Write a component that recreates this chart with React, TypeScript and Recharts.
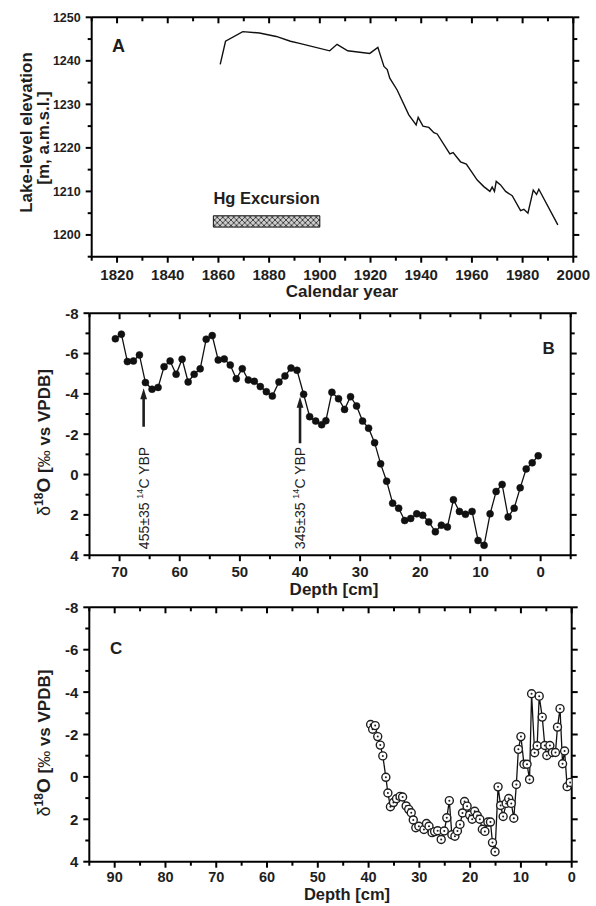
import React from "react";
import {
  LineChart,
  Line,
  XAxis,
  YAxis,
  ReferenceArea,
  ReferenceLine,
  ReferenceDot,
} from "recharts";

const FONT = '"Liberation Sans", Arial, Helvetica, sans-serif';
const INK = "#1e1e1e";

/* ---------------- panel A: lake level ---------------- */
const yearA = [
  1860.7, 1862.8, 1869.6, 1876.2, 1882.8, 1888.4, 1892, 1903.9, 1906.8, 1911,
  1919.7, 1922.9, 1925.3, 1926.6, 1927.6, 1930.5, 1935.1, 1938, 1938.8, 1940.7,
  1943, 1945, 1946.3, 1951.3, 1952.6, 1955.5, 1957.8, 1962.1, 1964.7, 1967.1,
  1968, 1968.9, 1969.6, 1971.3, 1973.3, 1975.9, 1979.2, 1980.5, 1982.1, 1984.2,
  1985.5, 1986.4, 1993.9,
];
const levelA = [
  1239.2, 1244.5, 1246.7, 1246.4, 1245.6, 1244.5, 1244.0, 1242.3, 1243.8,
  1242.3, 1241.7, 1243.1, 1238.7, 1238, 1236, 1233.3, 1227.6, 1225.3, 1227,
  1225, 1224.7, 1223.5, 1223.2, 1218.6, 1218.9, 1216.8, 1216.3, 1212.6, 1211.1,
  1210, 1211, 1210, 1212.3, 1211.5, 1210, 1209, 1205.6, 1205.9, 1205, 1210.3,
  1209.3, 1210.5, 1202.3,
];
const yearMajor = [1820, 1840, 1860, 1880, 1900, 1920, 1940, 1960, 1980, 2000];
const yearMinor = [1810, 1830, 1850, 1870, 1890, 1910, 1930, 1950, 1970, 1990];
const levelMajor = [1200, 1210, 1220, 1230, 1240, 1250];
const levelMinor = [1195, 1205, 1215, 1225, 1235, 1245];
const hgYears = [1858, 1900];
const hgLevels = [1201.8, 1204.4];

/* ---------------- panel B: d18O core 1 ---------------- */
const depthB = [
  70.7, 69.7, 68.7, 67.7, 66.7, 65.7, 64.6, 63.6, 62.6, 61.6, 60.6, 59.6, 58.6,
  57.6, 56.6, 55.6, 54.6, 53.6, 52.6, 51.6, 50.6, 49.6, 48.6, 47.6, 46.6, 45.6,
  44.6, 43.5, 42.5, 41.5, 40.5, 39.4, 38.4, 37.4, 36.4, 35.7, 34.7, 33.6, 32.6,
  31.6, 30.6, 29.6, 28.6, 27.6, 26.6, 25.6, 24.6, 23.6, 22.6, 21.6, 20.6, 19.6,
  18.6, 17.5, 16.5, 15.5, 14.5, 13.5, 12.5, 11.4, 10.4, 9.4, 8.4, 7.4, 6.4, 5.4,
  4.4, 3.4, 2.4, 1.4, 0.4,
];
const d18oB = [
  -6.73, -6.96, -5.6, -5.63, -5.93, -4.56, -4.23, -4.32, -5.35, -5.63, -4.97,
  -5.72, -4.59, -4.97, -5.24, -6.71, -6.89, -5.68, -5.73, -5.43, -4.75, -5.25,
  -4.69, -4.62, -4.36, -4.11, -3.89, -4.59, -4.89, -5.28, -5.17, -3.98, -2.87,
  -2.65, -2.47, -2.67, -4.08, -3.76, -3.23, -3.86, -3.4, -2.65, -2.3, -1.58,
  -0.53, 0.33, 1.42, 1.67, 2.28, 2.18, 1.95, 2.02, 2.35, 2.84, 2.51, 2.6, 1.25,
  1.83, 1.97, 1.83, 3.27, 3.51, 1.95, 0.84, 0.49, 2.1, 1.67, 0.66, -0.28, -0.58,
  -0.93,
];
const depthMajorB = [70, 60, 50, 40, 30, 20, 10, 0];
const depthMinorB = [75, 65, 55, 45, 35, 25, 15, 5, -5];
const dateDepths = [66, 40];
const dateAges = ["455±35", "345±35"];
const arrowBase = [-2.37, -1.55];
const arrowTip = [-4.28, -3.86];

/* ---------------- panel C: d18O core 2 ---------------- */
const depthC = [
  39.6, 39.2, 38.7, 38.2, 37.7, 37.2, 36.6, 36.2, 35.7, 35.1, 34.5, 33.8, 33.3,
  32.6, 32.1, 31.6, 31.2, 30.7, 30.1, 29.1, 28.6, 28.1, 27.5, 27.0, 26.4, 25.7,
  25.1, 24.6, 24.1, 23.6, 23.0, 22.5, 22.0, 21.5, 21.1, 20.6, 20.1, 19.6, 19.1,
  18.6, 18.1, 17.6, 17.1, 16.5, 16.0, 15.6, 15.1, 14.5, 14.0, 13.5, 12.9, 12.4,
  11.9, 11.4, 10.9, 10.5, 10.0, 9.4, 8.8, 8.3, 7.9, 7.3, 6.8, 6.4, 5.8, 5.3, 4.9,
  4.3, 3.8, 3.2, 2.8, 2.3, 1.8, 1.4, 0.9, 0.3,
];
const d18oC = [
  -2.47, -2.25, -2.42, -1.9, -1.5, -0.99, 0.02, 0.76, 1.41, 1.21, 1.03, 0.92,
  0.95, 1.37, 1.53, 1.69, 2.03, 2.4, 2.33, 2.48, 2.2, 2.33, 2.63, 2.58, 2.54,
  2.95, 2.55, 1.93, 1.12, 2.73, 2.8, 2.55, 2.24, 1.7, 1.16, 1.38, 1.8, 2.0, 1.62,
  1.82, 2.0, 2.47, 2.57, 2.13, 2.13, 3.1, 3.53, 0.47, 1.35, 1.87, 1.25, 1.02,
  1.25, 1.95, 0.36, -1.3, -1.9, -0.6, -0.6, 0.12, -3.92, -1.14, -1.47, -3.81,
  -2.82, -1.48, -1.01, -1.48, -1.15, -1.15, -2.35, -3.22, -0.62, -1.22, 0.46,
  0.26,
];
const depthMajorC = [90, 80, 70, 60, 50, 40, 30, 20, 10, 0];
const depthMinorC = [95, 85, 75, 65, 55, 45, 35, 25, 15, 5];

const d18oMajor = [-8, -6, -4, -2, 0, 2, 4];
const d18oMinor = [-7, -5, -3, -1, 1, 3];

const rowsA = yearA.map((year, i) => ({ year, level: levelA[i] }));
const rowsB = depthB.map((depth, i) => ({ depth, v: d18oB[i] }));
const rowsC = depthC.map((depth, i) => ({ depth, v: d18oC[i] }));

/* ---------------- ticks ---------------- */
type Side = "bottom" | "top" | "left" | "right";

function makeTick(side: Side, major: number[], fontSize = 15, labelGap = 22) {
  return (p: any) => {
    const { x, y, payload } = p;
    const isMajor = major.includes(payload.value);
    const len = isMajor ? 6 : 4;
    let x2 = x;
    let y2 = y;
    if (side === "bottom") y2 = y + len;
    if (side === "top") y2 = y + len; // top ticks point into the frame
    if (side === "left") x2 = x - len;
    if (side === "right") x2 = x + len;
    return (
      <g>
        <line x1={x} y1={y} x2={x2} y2={y2} stroke="#000" strokeWidth={2} />
        {isMajor && side === "bottom" && (
          <text
            x={x}
            y={y + labelGap}
            textAnchor="middle"
            fontFamily={FONT}
            fontWeight={700}
            fontSize={fontSize}
            fill={INK}
          >
            {payload.value}
          </text>
        )}
        {isMajor && side === "left" && (
          <text
            x={x - 11}
            y={y + fontSize * 0.36}
            textAnchor="end"
            fontFamily={FONT}
            fontWeight={700}
            fontSize={fontSize}
            fill={INK}
          >
            {payload.value}
          </text>
        )}
      </g>
    );
  };
}

const AXIS_LINE = { stroke: "#000", strokeWidth: 2 };

// axes need a size of at least 1px to be drawn, margins below allow for it
function frame(
  xDomain: number[],
  xMajor: number[],
  xMinor: number[],
  yDomain: number[],
  yMajor: number[],
  yMinor: number[],
  reversed: boolean,
  yFont: number,
  xFont: number,
  xGap: number,
  xKey: string,
) {
  const xt = [...xMajor, ...xMinor].sort((a, b) => a - b);
  const yt = [...yMajor, ...yMinor].sort((a, b) => a - b);
  const common = {
    type: "number" as const,
    allowDataOverflow: true,
    tickLine: false,
    tickSize: 0,
    tickMargin: 0,
    interval: 0 as const,
    axisLine: AXIS_LINE,
  };
  return [
    <XAxis
      key="xb"
      xAxisId="x"
      dataKey={xKey}
      orientation="bottom"
      domain={xDomain}
      ticks={xt}
      reversed={reversed}
      height={1}
      tick={makeTick("bottom", xMajor, xFont, xGap)}
      {...common}
    />,
    <XAxis
      key="xt"
      xAxisId="xt"
      dataKey={xKey}
      orientation="top"
      domain={xDomain}
      ticks={xt}
      reversed={reversed}
      height={1}
      tick={makeTick("top", xMajor)}
      {...common}
    />,
    <YAxis
      key="yl"
      yAxisId="y"
      orientation="left"
      domain={yDomain}
      ticks={yt}
      reversed={reversed}
      width={1}
      tick={makeTick("left", yMajor, yFont)}
      {...common}
    />,
    <YAxis
      key="yr"
      yAxisId="yr"
      orientation="right"
      domain={yDomain}
      ticks={yt}
      reversed={reversed}
      width={1}
      tick={makeTick("right", yMajor)}
      {...common}
    />,
  ];
}

/* ---------------- annotation shapes ---------------- */
function DateArrow(p: any) {
  const { x1, y1, x2, y2 } = p;
  return (
    <g>
      <line x1={x1} y1={y1} x2={x2} y2={y2 + 8} stroke={INK} strokeWidth={2.6} />
      <polygon
        points={`${x2},${y2} ${x2 - 3.4},${y2 + 11} ${x2 + 3.4},${y2 + 11}`}
        fill={INK}
      />
    </g>
  );
}

function dateLabel(age: string) {
  return (p: any) => {
    const { cx, cy } = p;
    return (
      <text
        transform={`translate(${cx + 5},${cy}) rotate(-90)`}
        textAnchor="start"
        fontFamily={FONT}
        fontSize={14}
        fill={INK}
      >
        {age}{" "}
        <tspan fontSize={9} dy={-6}>
          14
        </tspan>
        <tspan dy={6}>C YBP</tspan>
      </text>
    );
  };
}

function RingDot(p: any) {
  const { cx, cy, index } = p;
  return (
    <g key={`ring-${index}`}>
      <circle cx={cx} cy={cy} r={4} fill="#fff" stroke={INK} strokeWidth={1.4} />
      <circle cx={cx} cy={cy} r={1} fill={INK} />
    </g>
  );
}

function YTitle({ x, y }: { x: number; y: number }) {
  return (
    <text
      transform={`translate(${x},${y}) rotate(-90)`}
      textAnchor="middle"
      fontFamily={FONT}
      fill={INK}
      fontSize={17}
      fontWeight={700}
    >
      <tspan fontWeight={400} fontSize={18}>
        δ
      </tspan>
      <tspan fontSize={12} dy={-7}>
        18
      </tspan>
      <tspan dy={7} fontSize={19}>
        O
      </tspan>
      <tspan> [</tspan>
      <tspan fontWeight={400}>‰</tspan>
      <tspan>{"  vs VPDB]"}</tspan>
    </text>
  );
}

const txt = {
  fontFamily: FONT,
  fontWeight: 700,
  fill: INK,
};

export default function App() {
  return (
    <div
      style={{
        position: "absolute",
        left: 0,
        top: 0,
        width: 596,
        height: 906,
        background: "#fff",
      }}
    >
      {/* A */}
      <div style={{ position: "absolute", left: 0, top: 0 }}>
        <LineChart
          width={596}
          height={300}
          data={rowsA}
          margin={{ top: 16.3, right: 21.7, bottom: 42.3, left: 90.7 }}
        >
          <defs>
            <pattern
              id="xhatch"
              width={5.5}
              height={5.5}
              patternUnits="userSpaceOnUse"
            >
              <rect width={5.5} height={5.5} fill="#cdcdcd" />
              <path d="M0,0 L5.5,5.5 M5.5,0 L0,5.5" stroke="#222" strokeWidth={0.8} />
            </pattern>
          </defs>
          {frame(
            [1810, 2000],
            yearMajor,
            yearMinor,
            [1195, 1250],
            levelMajor,
            levelMinor,
            false,
            12.5,
            15,
            23,
            "year",
          )}
          <ReferenceArea
            xAxisId="x"
            yAxisId="y"
            x1={hgYears[0]}
            x2={hgYears[1]}
            y1={hgLevels[0]}
            y2={hgLevels[1]}
            fill="url(#xhatch)"
            fillOpacity={1}
            stroke="#111"
            strokeWidth={1}
            label={{
              value: "Hg Excursion",
              position: "top",
              offset: 12,
              fill: INK,
              fontSize: 16.5,
              fontWeight: 700,
              fontFamily: FONT,
            }}
          />
          <Line
            xAxisId="x"
            yAxisId="y"
            dataKey="level"
            stroke="#111"
            strokeWidth={1.4}
            dot={false}
            isAnimationActive={false}
          />
        </LineChart>
      </div>

      {/* B */}
      <div style={{ position: "absolute", left: 0, top: 300 }}>
        <LineChart
          width={596}
          height={300}
          data={rowsB}
          margin={{ top: 12.2, right: 24.3, bottom: 43.8, left: 88.5 }}
        >
          {frame(
            [-5, 75],
            depthMajorB,
            depthMinorB,
            [-8, 4],
            d18oMajor,
            d18oMinor,
            true,
            15,
            15,
            22,
            "depth",
          )}
          {dateDepths.map((d, i) => (
            <ReferenceLine
              key={`arrow-${i}`}
              xAxisId="x"
              yAxisId="y"
              segment={[
                { x: d, y: arrowBase[i] },
                { x: d, y: arrowTip[i] },
              ]}
              shape={DateArrow}
            />
          ))}
          {dateDepths.map((d, i) => (
            <ReferenceDot
              key={`age-${i}`}
              xAxisId="x"
              yAxisId="y"
              x={d}
              y={3.7}
              r={0}
              shape={dateLabel(dateAges[i])}
            />
          ))}
          <Line
            xAxisId="x"
            yAxisId="y"
            dataKey="v"
            stroke="#111"
            strokeWidth={1.3}
            dot={{ r: 3.5, fill: "#111", stroke: "#111", strokeWidth: 0.5 }}
            isAnimationActive={false}
          />
        </LineChart>
      </div>

      {/* C */}
      <div style={{ position: "absolute", left: 0, top: 600 }}>
        <LineChart
          width={596}
          height={306}
          data={rowsC}
          margin={{ top: 6.3, right: 23.3, bottom: 43.3, left: 88.3 }}
        >
          {frame(
            [0, 95],
            depthMajorC,
            depthMinorC,
            [-8, 4],
            d18oMajor,
            d18oMinor,
            true,
            15,
            14.5,
            20.5,
            "depth",
          )}
          <Line
            xAxisId="x"
            yAxisId="y"
            dataKey="v"
            stroke="#111"
            strokeWidth={1.3}
            dot={RingDot}
            isAnimationActive={false}
          />
        </LineChart>
      </div>

      {/* titles and panel letters */}
      <svg
        width={596}
        height={906}
        style={{ position: "absolute", left: 0, top: 0, pointerEvents: "none" }}
      >
        <text {...txt} fontSize={18} x={112} y={52}>
          A
        </text>
        <text {...txt} fontSize={17} x={542.5} y={353.5}>
          B
        </text>
        <text {...txt} fontSize={17} x={110} y={653.5}>
          C
        </text>

        <text
          {...txt}
          fontSize={17}
          textAnchor="middle"
          transform="translate(31.5,132.5) rotate(-90)"
        >
          Lake-level elevation
        </text>
        <text
          {...txt}
          fontSize={17}
          textAnchor="middle"
          transform="translate(48.5,138) rotate(-90)"
        >
          [m, a.m.s.l.]
        </text>
        <text {...txt} fontSize={17} textAnchor="middle" x={342} y={296.5}>
          Calendar year
        </text>

        <YTitle x={50} y={442.5} />
        <text {...txt} fontSize={17} textAnchor="middle" x={334} y={595}>
          Depth [cm]
        </text>

        <YTitle x={50} y={743} />
        <text {...txt} fontSize={16.5} textAnchor="middle" x={347} y={900}>
          Depth [cm]
        </text>
      </svg>
    </div>
  );
}
